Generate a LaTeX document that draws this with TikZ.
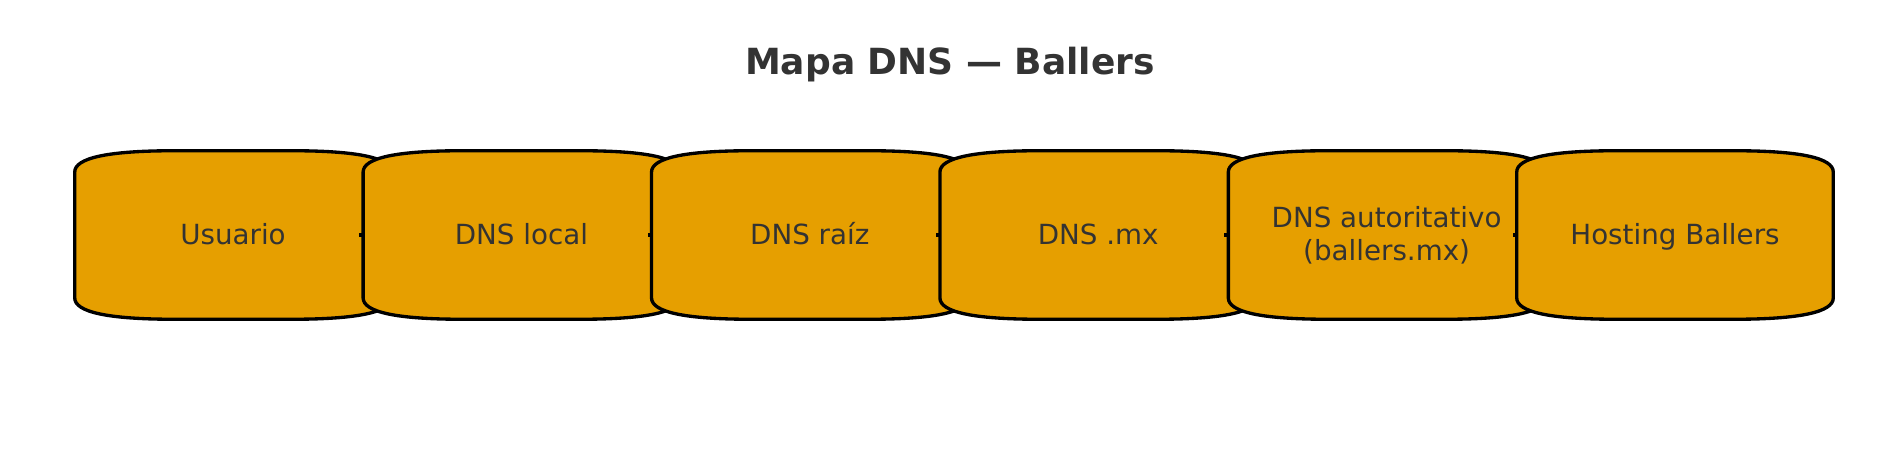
\documentclass[tikz,border=0pt]{standalone}
\usepackage{fontspec}
\setmainfont{DejaVu Sans}
\usepackage{tikz}
\usetikzlibrary{positioning,calc}
\definecolor{dnsorange}{HTML}{E69F00}
\definecolor{inkgray}{HTML}{333333}
\pgfdeclarelayer{boxes}
\pgfsetlayers{boxes,main}
\tikzset{
  % nodos
  dnsbox/.style={fill=dnsorange,draw=black,line width=2.5pt},
  dnstext/.style={text=inkgray,font=\fontsize{20.8}{25}\selectfont,align=center,
                  minimum width=237pt,minimum height=126pt,inner sep=0pt},
  oneline/.style={text height=16pt,text depth=1pt},
  titletext/.style={text=inkgray,font=\fontsize{27}{32}\selectfont\bfseries},
  link/.style={draw=black,line width=2.5pt,shorten >=-3pt},
}
% caja con esquinas redondeadas (cuadraticas) alrededor de un nodo
\def\cornerx{75pt}
\def\cornery{16pt}
\newcommand{\elbox}[1]{%
  \draw[dnsbox] ([xshift=\cornerx]#1.north west) -- ([xshift=-\cornerx]#1.north east)
    .. controls ([xshift=-\cornerx/3]#1.north east) and ([yshift=-\cornery/3]#1.north east)
    .. ([yshift=-\cornery]#1.north east) -- ([yshift=\cornery]#1.south east)
    .. controls ([yshift=\cornery/3]#1.south east) and ([xshift=-\cornerx/3]#1.south east)
    .. ([xshift=-\cornerx]#1.south east) -- ([xshift=\cornerx]#1.south west)
    .. controls ([xshift=\cornerx/3]#1.south west) and ([yshift=\cornery/3]#1.south west)
    .. ([yshift=\cornery]#1.south west) -- ([yshift=-\cornery]#1.north west)
    .. controls ([yshift=-\cornery/3]#1.north west) and ([xshift=\cornerx/3]#1.north west)
    .. ([xshift=\cornerx]#1.north west) -- cycle;}

\begin{document}
\begin{tikzpicture}[x=0.75pt,y=0.75pt]
\useasboundingbox (0,0) rectangle (1900,471);
  \node[titletext] (title) at (950,406) {Mapa DNS — Ballers};

  \node[dnstext,oneline] (user) at (233,236) {Usuario};
  \begin{pgfonlayer}{boxes}\elbox{user}\end{pgfonlayer}

  \node[dnstext,oneline] (local) at (521.4,236) {DNS local};
  \begin{pgfonlayer}{boxes}
    \draw[link] (user.east) -- (local.west);
    \elbox{local}
  \end{pgfonlayer}

  \node[dnstext,oneline] (root) at (809.8,236) {DNS raíz};
  \begin{pgfonlayer}{boxes}
    \draw[link] (local.east) -- (root.west);
    \elbox{root}
  \end{pgfonlayer}

  \node[dnstext,oneline] (mx) at (1098.2,236) {DNS .mx};
  \begin{pgfonlayer}{boxes}
    \draw[link] (root.east) -- (mx.west);
    \elbox{mx}
  \end{pgfonlayer}

  \node[dnstext] (auth) at (1386.6,236) {DNS autoritativo\\(ballers.mx)};
  \begin{pgfonlayer}{boxes}
    \draw[link] (mx.east) -- (auth.west);
    \elbox{auth}
  \end{pgfonlayer}

  \node[dnstext,oneline] (host) at (1675,236) {Hosting Ballers};
  \begin{pgfonlayer}{boxes}
    \draw[link] (auth.east) -- (host.west);
    \elbox{host}
  \end{pgfonlayer}
\end{tikzpicture}
\end{document}
